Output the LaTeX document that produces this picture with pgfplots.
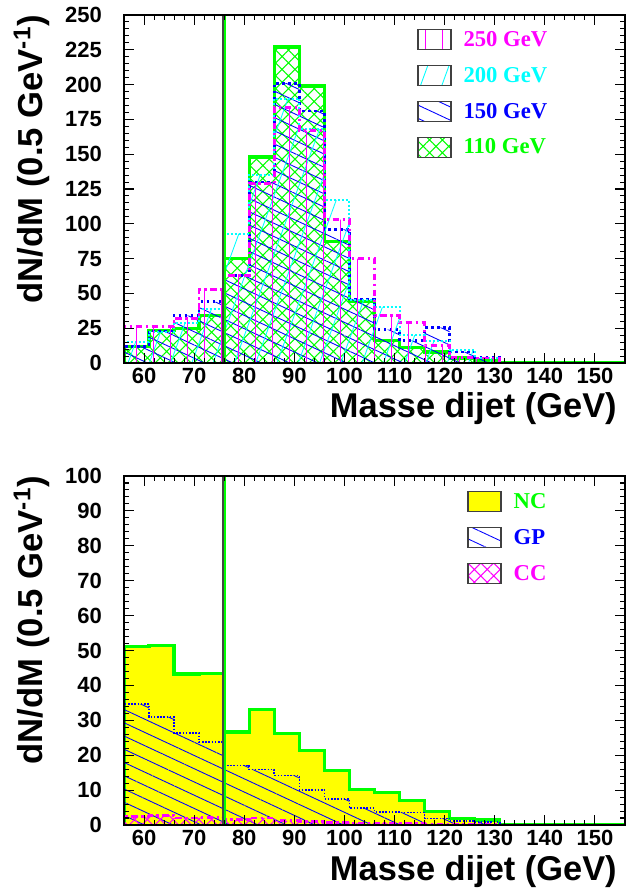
\documentclass[border=0pt]{standalone}
\usepackage{fontspec}
\usepackage{pgfplots}
\usepackage{pgfplotstable}
\pgfplotsset{compat=1.18}
\usetikzlibrary{patterns.meta}
\newfontfamily\hb{Liberation Sans}
\newfontfamily\tb{Liberation Serif}
\definecolor{rgreen}{RGB}{0,255,0}
\definecolor{rblue}{RGB}{0,0,255}
\definecolor{rcyan}{RGB}{0,255,255}
\definecolor{rmag}{RGB}{255,0,255}
\definecolor{ryellow}{RGB}{255,255,0}
\definecolor{rgray}{RGB}{70,70,70}

\pgfplotstableread{
x    g     b     c     m
56   0     0     0     0
56   12    12    15    26
61   23.5  23    22    26
66   25    34    28.5  32
71   34    44    39    53
76   75    63    93    63
81   148   130   135   129
86   227   201   190   183.5
91   199   181   168   167
96   87.5  96    117   103
101  44    46    45    75
106  16    24    40    34
111  11    16    20    29
116  8     25.5  15.5  12.5
121  3.5   8     9.6   4
126  2     4     3.5   3.5
131  0     0     0     0
136  0     0     0     0
141  0     0     0     0
146  0     0     0     0
151  0     0     0     0
156  0     0     0     0
}\toptab

\pgfplotstableread{
x    n     p     cc
56   0     0     0
56   51.2  34.6  2.5
61   51.5  31    2.8
66   43.3  26.4  2
71   43.5  23.7  2.2
76   26.6  17.1  1.5
81   33    15.9  2
86   26.2  14.2  1.2
91   21.3  10.1  1
96   15.6  7.5   0.8
101  10.1  4.8   0.6
106  9.3   3.8   0.5
111  7     3.6   0.4
116  3.8   1.9   0.3
121  1.9   1.2   0.2
126  1.4   0.9   0.2
131  0     0     0
136  0     0     0
141  0     0     0
146  0     0     0
151  0     0     0
156  0     0     0
}\bottab

\pgfplotsset{
  rootaxis/.style={
    scale only axis, width=375.75pt,
    xmin=56, xmax=156,
    xtick={60,70,...,150}, minor x tick num=4,
    minor y tick num=4,
    tick align=inside,
    major tick length=7.5pt, minor tick length=3.75pt,
    tick style={black, line width=0.8pt},
    axis line style={black, line width=1.1pt},
    axis on top,
    /pgf/number format/assume math mode=true,
    ticklabel style={font=\hb\bfseries\fontsize{16.5}{16.5}\selectfont},
    yticklabel style={xshift=-13pt},
    ylabel={dN/dM (0.5 GeV\textsuperscript{-1})},
    ylabel style={font=\hb\bfseries\fontsize{26}{26}\selectfont, at={(axis description cs:-0.148,1)}, anchor=south east, inner sep=0pt},
    xlabel={Masse dijet (GeV)},
    xlabel style={font=\hb\bfseries\fontsize{25.8}{25.8}\selectfont, at={(axis description cs:1,0)}, anchor=base east, yshift=-41.25pt, xshift=-6pt, inner sep=0pt},
    legend cell align=left,
    legend image code/.code={\draw[#1, draw=black!75, solid, line width=0.9pt] (0pt,-7.5pt) rectangle (24.75pt,7.5pt);},
    legend style={draw=none, fill=none, anchor=north west, inner sep=0pt, row sep=11pt, column sep=9pt,
      font=\tb\bfseries\fontsize{17}{17}\selectfont, nodes={inner sep=0pt}},
  },
  hist/.style={const plot mark left},
}

\begin{document}
\begin{tikzpicture}
\useasboundingbox (-93pt,-48.75pt) rectangle (376.5pt,618.75pt);

% ---------- top panel ----------
\begin{axis}[rootaxis, at={(0pt,346.5pt)}, anchor=south west,
  height=261pt, ymin=0, ymax=250, ytick={0,25,...,250},
  legend style={at={(0.585,0.96)}}, reverse legend]
% 110 GeV
\addplot[hist, draw=none, pattern={Hatch[angle=45,distance=6.8pt,line width=0.8pt]}, pattern color=rgreen] table[x=x,y=g]{\toptab} \closedcycle;
\addlegendentry{\textcolor{rgreen}{110 GeV}}
\addplot[hist, forget plot, draw=rgreen, line width=2.5pt] table[x=x,y=g]{\toptab};
% 150 GeV
\addplot[hist, draw=none, pattern={Lines[angle=-25,distance=9pt,line width=0.65pt]}, pattern color=rblue] table[x=x,y=b]{\toptab} \closedcycle;
\addlegendentry{\textcolor{rblue}{150 GeV}}
\addplot[hist, forget plot, draw=rblue, line width=2pt, dash pattern=on 2pt off 2.5pt] table[x=x,y=b]{\toptab};
% 200 GeV
\addplot[hist, draw=none, pattern={Lines[angle=70,distance=15pt,line width=0.65pt]}, pattern color=rcyan] table[x=x,y=c]{\toptab} \closedcycle;
\addlegendentry{\textcolor{rcyan}{200 GeV}}
\addplot[hist, forget plot, draw=rcyan, line width=1.5pt, dash pattern=on 1.5pt off 1.5pt] table[x=x,y=c]{\toptab};
% 250 GeV
\addplot[hist, draw=none, pattern={Lines[angle=90,distance=12.75pt,line width=0.75pt]}, pattern color=rmag] table[x=x,y=m]{\toptab} \closedcycle;
\addlegendentry{\textcolor{rmag}{250 GeV}}
\addplot[hist, forget plot, draw=rmag, line width=2pt, dash pattern=on 5pt off 2.5pt on 2pt off 2.5pt] table[x=x,y=m]{\toptab};
% cut line
\addplot[forget plot, draw=rgray, line width=1.3pt] coordinates {(75.8,0) (75.8,250)};
\addplot[forget plot, draw=rgreen, line width=1.3pt] coordinates {(76.15,0) (76.15,250)};
\end{axis}

% ---------- bottom panel ----------
\begin{axis}[rootaxis, at={(0pt,0pt)}, anchor=south west,
  height=261.75pt, ymin=0, ymax=100, ytick={0,10,...,100},
  legend style={at={(0.685,0.957)}}]
\addplot[hist, draw=none, fill=ryellow] table[x=x,y=n]{\bottab} \closedcycle;
\addlegendentry{\textcolor{rgreen}{NC}}
\addplot[hist, forget plot, draw=rgreen, line width=2.5pt] table[x=x,y=n]{\bottab};
\addplot[hist, draw=none, pattern={Lines[angle=-25,distance=9pt,line width=0.65pt]}, pattern color=rblue] table[x=x,y=p]{\bottab} \closedcycle;
\addlegendentry{\textcolor{rblue}{GP}}
\addplot[hist, forget plot, draw=rblue, line width=1.2pt, dash pattern=on 1.2pt off 1.2pt] table[x=x,y=p]{\bottab};
\addplot[hist, draw=none, pattern={Hatch[angle=45,distance=6.8pt,line width=0.8pt]}, pattern color=rmag] table[x=x,y=cc]{\bottab} \closedcycle;
\addlegendentry{\textcolor{rmag}{CC}}
\addplot[hist, forget plot, draw=rmag, line width=2pt, dash pattern=on 5pt off 2.5pt on 2pt off 2.5pt] table[x=x,y=cc]{\bottab};
\addplot[forget plot, draw=rgray, line width=1.3pt] coordinates {(75.8,0) (75.8,100)};
\addplot[forget plot, draw=rgreen, line width=1.3pt] coordinates {(76.15,0) (76.15,100)};
\end{axis}
\end{tikzpicture}
\end{document}
